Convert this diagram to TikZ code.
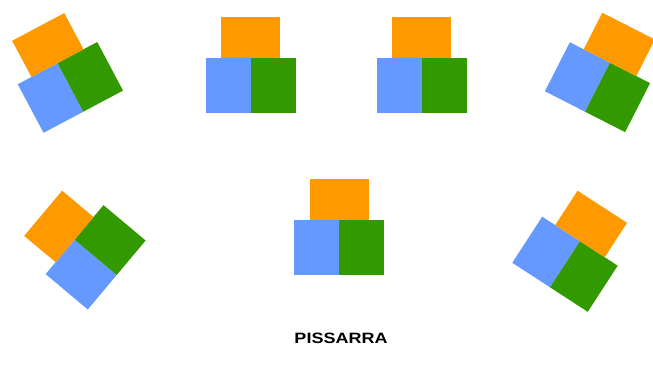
\documentclass[tikz,border=0pt]{standalone}
\usepackage{fontspec}
\setmainfont{Liberation Sans}
\definecolor{borange}{RGB}{255,153,0}
\definecolor{bblue}{RGB}{102,153,255}
\definecolor{bgreen}{RGB}{51,153,0}
\tikzset{
  blockset/.pic={
    \fill[bblue] (-45,0) rectangle (0,55);
    \fill[bgreen] (0,0) rectangle (45,55);
    \fill[borange] (-29.5,55) rectangle (29.5,96);
  },
  title/.style={font=\bfseries\fontsize{15}{18}\selectfont, xscale=1.2, inner sep=0pt}
}
\begin{document}
\begin{tikzpicture}[x=1pt,y=1pt]
\useasboundingbox (0,0) rectangle (653,367);
\fill[white] (0,0) rectangle (653,367);
\pic[rotate=28]  at (83.3,255.3)  {blockset};
\pic             at (250.5,254.3) {blockset};
\pic             at (421.7,254.3) {blockset};
\pic[rotate=-27] at (585,255.3)   {blockset};
\pic[rotate=50]  at (116.7,92)    {blockset};
\pic             at (339,91.7)    {blockset};
\pic[rotate=-33] at (550,79.7)    {blockset};
\node[title] (pissarra) at (341,28.7) {PISSARRA};
\end{tikzpicture}
\end{document}
